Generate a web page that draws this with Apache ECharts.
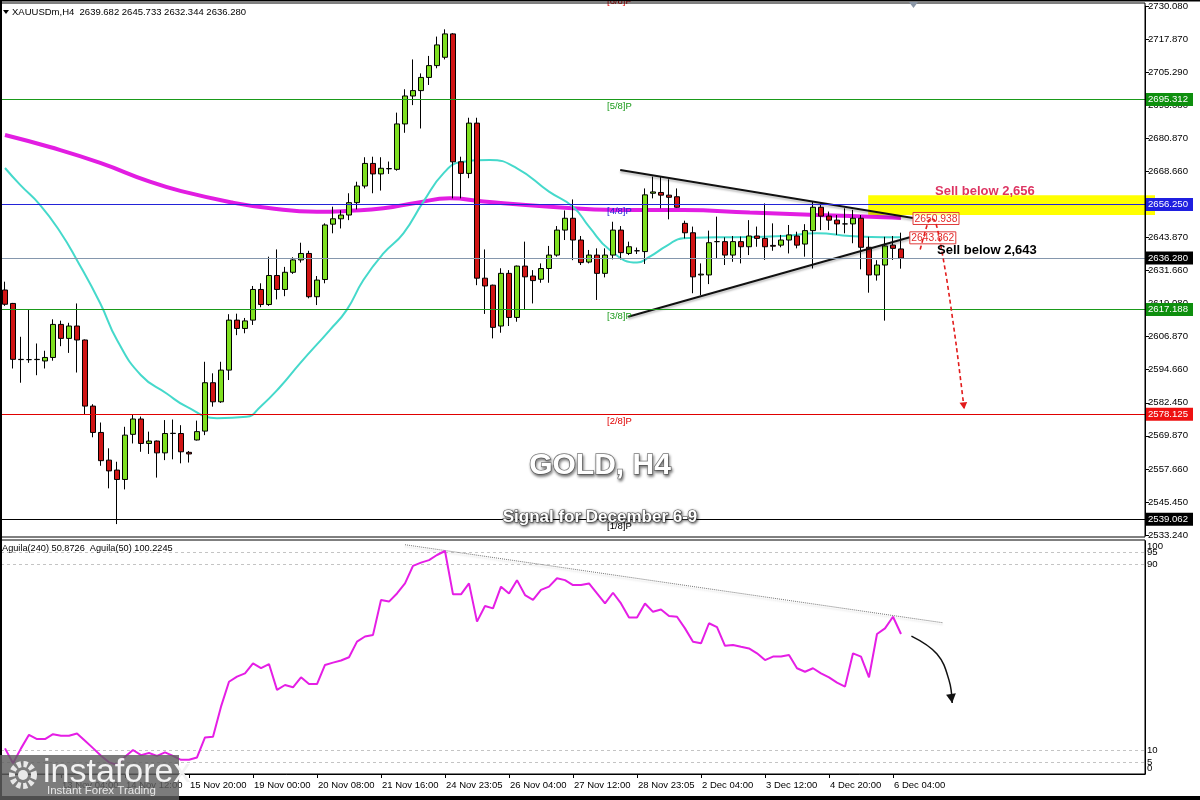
<!DOCTYPE html>
<html><head><meta charset="utf-8">
<script src="https://cdn.jsdelivr.net/npm/echarts@6/dist/echarts.min.js"></script>
<style>html,body{margin:0;padding:0;background:#fff;overflow:hidden}#c{width:1200px;height:800px}</style>
</head><body><div id="c"></div>
<script>
// ---------- DATA ----------
const H6 = ['00:00','04:00','08:00','12:00','16:00','20:00'];
const sessions = [
  ['12 Nov', H6], ['13 Nov', H6], ['14 Nov', H6], ['15 Nov', H6],
  ['17 Nov', ['23:05']],
  ['18 Nov', H6], ['19 Nov', H6], ['20 Nov', H6], ['21 Nov', H6], ['22 Nov', H6],
  ['24 Nov', ['23:05']],
  ['25 Nov', H6], ['26 Nov', H6], ['27 Nov', H6],
  ['28 Nov', ['00:00','04:00','08:00','12:00','16:00','23:05']],
  ['29 Nov', ['00:00','04:00','08:00','12:00','16:00']],
  ['1 Dec', ['23:05']],
  ['2 Dec', H6], ['3 Dec', H6], ['4 Dec', H6], ['5 Dec', H6],
  ['6 Dec', ['00:00','04:00','08:00']]
];
const futureSlots = 30;

// OHLC rows: [open, high, low, close]
const ohlc = [
 [2624.4,2627.5,2618.5,2619.1],[2619.4,2619.6,2595.2,2598.6],[2598.6,2607.0,2589.9,2598.5],[2598.5,2617.2,2597.3,2598.5],
 [2598.5,2604.5,2592.7,2598.6],[2598.0,2601.8,2595.2,2599.3],[2599.3,2613.5,2598.1,2611.6],[2611.6,2613.0,2603.5,2606.4],
 [2606.4,2612.2,2601.0,2611.0],[2611.0,2619.4,2593.7,2605.8],[2605.8,2606.0,2577.9,2581.2],[2581.2,2581.9,2569.6,2571.4],
 [2571.4,2575.1,2559.0,2560.9],[2561.1,2565.5,2550.6,2557.1],[2557.4,2560.5,2537.3,2553.9],[2553.9,2573.5,2550.2,2570.4],
 [2570.7,2577.9,2567.3,2576.4],[2576.4,2577.3,2564.2,2567.3],[2567.3,2571.7,2563.4,2568.2],[2568.2,2568.4,2554.6,2563.8],
 [2563.8,2576.0,2561.1,2571.0],[2571.0,2576.2,2561.4,2571.1],[2571.0,2574.1,2559.9,2564.2],[2564.0,2564.5,2560.2,2563.4],
 [2568.6,2575.8,2568.4,2571.7],[2571.9,2597.7,2570.4,2589.9],[2589.9,2593.4,2581.0,2582.8],[2582.8,2597.7,2582.4,2594.6],
 [2594.6,2615.4,2590.9,2613.2],[2613.2,2615.6,2607.6,2610.1],[2610.1,2614.0,2608.3,2612.9],[2613.2,2625.9,2611.4,2624.6],
 [2624.6,2626.9,2618.0,2619.0],[2619.0,2636.8,2618.5,2629.8],[2629.8,2639.5,2620.9,2624.6],[2624.6,2633.0,2622.1,2631.0],
 [2631.0,2636.6,2630.4,2635.6],[2635.6,2642.0,2634.6,2638.0],[2638.0,2639.0,2621.3,2621.9],[2621.9,2629.6,2618.8,2628.1],
 [2628.3,2649.2,2626.9,2648.6],[2648.9,2655.4,2645.5,2650.9],[2650.9,2654.1,2647.3,2652.3],[2652.3,2660.4,2650.4,2656.9],
 [2656.9,2664.7,2654.4,2663.1],[2663.1,2673.8,2662.2,2671.5],[2671.5,2674.0,2660.4,2667.6],[2667.6,2673.8,2661.4,2669.7],
 [2669.5,2672.2,2667.6,2669.6],[2669.3,2690.4,2668.8,2686.2],[2686.2,2699.1,2682.9,2696.6],[2696.6,2710.2,2693.2,2698.6],
 [2698.6,2705.0,2684.5,2703.5],[2703.5,2711.5,2700.7,2707.9],[2707.9,2718.7,2706.9,2715.6],[2711.0,2721.4,2710.2,2719.7],
 [2719.7,2720.0,2658.5,2672.1],[2672.1,2674.0,2658.5,2667.8],[2667.8,2688.5,2666.0,2686.5],[2686.5,2688.5,2626.2,2628.8],
 [2628.8,2639.5,2615.5,2625.9],[2626.2,2626.4,2606.4,2610.5],[2611.0,2632.5,2608.5,2630.6],[2630.6,2631.8,2611.0,2614.2],
 [2614.2,2633.5,2612.6,2633.3],[2633.3,2642.4,2617.0,2629.3],[2629.6,2631.8,2619.4,2627.9],[2628.4,2634.3,2627.1,2632.4],
 [2632.4,2640.8,2627.1,2637.4],[2637.4,2648.2,2636.8,2646.7],[2646.7,2654.0,2643.0,2651.1],[2651.1,2658.1,2635.5,2643.0],
 [2643.0,2644.5,2633.7,2634.6],[2634.8,2639.3,2634.3,2637.4],[2637.4,2639.9,2620.7,2630.6],[2630.6,2639.9,2629.1,2637.4],
 [2637.4,2649.8,2635.8,2646.7],[2646.7,2648.2,2635.8,2638.3],[2638.0,2642.4,2637.4,2640.5],[2639.0,2640.2,2637.8,2639.0],
 [2638.7,2662.2,2634.1,2659.8],[2660.4,2666.6,2658.5,2660.9],[2660.7,2666.6,2654.8,2659.7],[2659.7,2665.6,2650.7,2658.9],
 [2659.1,2662.2,2655.0,2655.2],[2649.2,2650.2,2643.6,2645.7],[2645.7,2648.0,2623.2,2629.3],[2630.0,2634.3,2622.5,2630.3],
 [2630.0,2646.5,2626.6,2642.0],[2642.4,2651.7,2636.2,2642.4],[2642.4,2644.0,2633.7,2637.4],[2637.4,2644.5,2634.9,2642.4],
 [2642.4,2644.3,2634.3,2640.5],[2640.5,2650.4,2637.4,2644.5],[2644.5,2648.0,2640.5,2643.6],[2643.6,2656.6,2635.6,2640.5],
 [2641.0,2649.2,2639.0,2640.7],[2641.1,2644.9,2640.3,2643.0],[2643.0,2648.6,2638.0,2644.9],[2644.5,2646.1,2639.9,2641.1],
 [2641.5,2648.9,2636.8,2646.5],[2646.5,2657.3,2632.4,2655.2],[2655.2,2656.6,2646.7,2651.9],[2651.9,2653.6,2646.7,2650.4],
 [2650.4,2652.3,2644.9,2649.0],[2649.0,2654.8,2645.5,2649.0],[2649.0,2654.2,2641.8,2651.1],[2651.1,2652.3,2632.1,2640.3],
 [2640.3,2644.2,2623.4,2630.0],[2630.0,2635.5,2627.9,2633.7],[2633.7,2644.2,2613.0,2640.8],[2641.1,2644.5,2635.6,2639.9],
 [2639.682,2645.733,2632.344,2636.280]
];

// moving averages: [candle index, price]
const maFast = [[0,2669.8],[1.9,2663.5],[4.4,2656],[6.9,2646],[9,2635.5],[11.9,2619.5],[14,2605.8],[17,2592.7],
 [20.2,2585.9],[22.7,2581],[26.5,2576.7],[30.2,2577.2],[31.9,2580.9],[34.4,2588.4],[36.9,2597.2],[40.6,2609.5],
 [42.7,2616.9],[44.8,2628.1],[47.3,2638],[49.8,2645.5],[52.3,2657.3],[54.8,2667.8],[57,2672],[60.6,2672.8],
 [64,2669.7],[68,2661],[71,2655.4],[73,2648],[75.6,2639.3],[79,2634.6],[80.6,2636.8],[82.7,2640.8],[84.8,2643.7],
 [89,2644],[93,2644.1],[97.3,2644.5],[101.5,2645.5],[105.6,2644.5],[109.8,2644],[112,2644]];
const maSlow = [[0,2682.1],[5.6,2677.6],[11.9,2671.7],[18.1,2664.7],[22.3,2661],[28.5,2656.9],[32.7,2655],[39,2653.5],
 [43.1,2653.9],[47.3,2654.8],[51.5,2656.9],[55.6,2658.5],[59.8,2657.3],[68.1,2655.4],[76.5,2654.2],[84.8,2654.2],
 [93.1,2653.2],[101.5,2652.3],[109.8,2651.5],[112,2651.2]];

// Aguila(50) oscillator, one value per candle
const aguila = [11.0,4.6,11.0,16.8,15.0,15.0,17.1,16.4,16.4,17.4,14.3,11.1,7.8,5.0,4.0,7.4,10.3,8.1,9.0,7.8,
 9.3,7.8,6.1,6.1,7.1,15.7,16.0,28.9,39.6,41.8,43.2,47.5,45.4,47.2,36.1,38.2,37.2,41.5,38.6,38.6,
 46.8,47.8,48.7,50.1,56.8,59.0,59.7,74.7,74.0,77.5,81.8,89.3,90.7,91.8,94.0,95.7,77.1,77.1,81.8,65.4,
 72.1,71.1,80.4,77.5,83.2,76.8,74.7,79.0,80.4,84.0,83.2,81.1,81.1,81.8,77.5,73.2,77.8,73.2,67.2,67.2,
 73.2,69.6,70.6,67.8,67.5,62.5,56.8,56.1,64.7,63.0,55.0,55.4,54.6,53.9,51.8,48.9,50.4,50.4,51.1,45.4,
 43.9,45.4,43.2,41.5,39.2,37.5,51.8,50.4,41.5,60.1,62.5,67.5,60.1];

// price axis tick labels (bottom to top) and range
const priceMin = 2533.24, priceMax = 2730.08, priceStep = 12.3025;
const priceTickLabels = ['2533.240','2545.450','2557.660','2569.870','2582.450','2594.660','2606.870','2619.080',
 '2631.660','2643.870','2656.080','2668.660','2680.870','2693.080','2705.290','2717.870','2730.080'];
const oscTicks = [100,95,90,10,5,0];
const oscLevels = [95,90,10,5];

// Murrey levels and price markers
const levels = [
  {price:2734.375, name:'[6/8]P', color:'#e00000', line:false},
  {price:2695.312, name:'[5/8]P', color:'#1a9a1a', box:'#0e8f0e'},
  {price:2656.250, name:'[4/8]P', color:'#2323d8', box:'#1f1fe0'},
  {price:2617.188, name:'[3/8]P', color:'#1a9a1a', box:'#0e8f0e'},
  {price:2578.125, name:'[2/8]P', color:'#e00000', box:'#ee1111'},
  {price:2539.062, name:'[1/8]P', color:'#000000', box:'#000000'}
];
const lastPrice = 2636.280;

// annotations in data coordinates [candle index, price]
const upperTrend = [[76.9,2669.05],[113.5,2651.2]];
const lowerTrend = [[77.9,2614.45],[113.1,2644.0]];
const sellZone = {fromIndex:107.9, top:2659.7, bottom:2652.3};
const sellTexts = [{index:116.25, price:2661.0, text:'Sell below 2,656', color:'#dd3563'},
                   {index:116.5, price:2639.3, text:'Sell below 2,643', color:'#000000'}];
const redPath = [[114.4,2639.5],[115.6,2651.0],[116.3,2650.0],[117.6,2630.5],[118.9,2604],[119.9,2580]];
const oscTrend = [[50,98.4],[117.25,64.9]];
const oscArrow = [[113.3,59.2],[116.5,51.5],[118.0,40.3],[118.4,30.5]];

// ---------- BUILD ----------
const categories = [];
sessions.forEach(([d, hs]) => hs.forEach(h => categories.push(d + ' ' + h)));
const nCandles = categories.length;
for (let k = 0; k < futureSlots; k++) categories.push('');
const N = categories.length;
const candleData = ohlc.map(r => [r[0], r[3], r[2], r[1]]);
const labelIdx = (i) => i % 8 === 7 && i < nCandles;
const F = '"Liberation Sans", Arial, sans-serif';

const chart = echarts.init(document.getElementById('c'), null, {renderer:'canvas'});
const option = {
  animation:false,
  backgroundColor:'#ffffff',
  grid:[
    {left:1, right:55, top:6, height:529},
    {left:1, right:55, top:541, height:233}
  ],
  xAxis:[
    {type:'category', gridIndex:0, data:categories, boundaryGap:true, axisLine:{show:false, onZero:false}, axisTick:{show:false}, axisLabel:{show:false}, splitLine:{show:false}},
    {type:'category', gridIndex:1, data:categories, boundaryGap:true,
     axisLine:{show:true, onZero:false, lineStyle:{color:'#000', width:1}},
     axisTick:{show:true, alignWithLabel:true, length:4, interval:(i)=>labelIdx(i), lineStyle:{color:'#000'}},
     axisLabel:{show:true, interval:(i)=>labelIdx(i), align:'left', margin:6, color:'#000', fontSize:9.5, fontFamily:F, padding:[0,0,0,1]},
     splitLine:{show:false}},
    {type:'value', gridIndex:0, min:-0.5, max:N-0.5, show:false, axisLine:{onZero:false}},
    {type:'value', gridIndex:1, min:-0.5, max:N-0.5, show:false, axisLine:{onZero:false}}
  ],
  yAxis:[
    {type:'value', gridIndex:0, position:'right', min:priceMin, max:priceMax, interval:priceStep,
     axisLine:{show:true, onZero:false, lineStyle:{color:'#000'}},
     axisTick:{show:true, length:4, lineStyle:{color:'#000'}},
     axisLabel:{color:'#000', fontSize:9.6, fontFamily:F, margin:3, showMinLabel:true, showMaxLabel:true,
       formatter:(v)=>priceTickLabels[Math.round((v-priceMin)/priceStep)] || ''},
     splitLine:{show:false}},
    {type:'value', gridIndex:1, position:'right', min:0, max:100, interval:5,
     axisLine:{show:true, onZero:false, lineStyle:{color:'#000'}},
     axisTick:{show:false}, axisLabel:{show:false}, splitLine:{show:false}}
  ],
  series:[
    {type:'line', name:'MA slow', xAxisIndex:2, yAxisIndex:0, data:maSlow, smooth:0.5, symbol:'none', z:1,
     lineStyle:{color:'#e21de2', width:4}},
    {type:'line', name:'MA fast', xAxisIndex:2, yAxisIndex:0, data:maFast, smooth:0.5, symbol:'none', z:1,
     lineStyle:{color:'#45d9cb', width:2}},
    {type:'candlestick', name:'XAUUSDm', xAxisIndex:0, yAxisIndex:0, data:candleData, barWidth:5, z:3,
     itemStyle:{color:'#7fe021', color0:'#d01414', borderColor:'#000', borderColor0:'#000', borderColorDoji:'#000', borderWidth:1}},
    {type:'line', name:'levels', xAxisIndex:2, yAxisIndex:0, data:[], symbol:'none', z:2,
     markLine:{silent:true, symbol:'none', label:{show:false},
       data: levels.filter(l=>l.line!==false).map(l=>({yAxis:l.price, lineStyle:{color:l.color, width:1, type:'solid'}}))
         .concat([{yAxis:lastPrice, lineStyle:{color:'#8597ad', width:1, type:'solid'}}])}},
    {type:'line', name:'upper', xAxisIndex:2, yAxisIndex:0, data:upperTrend, symbol:'none', z:4,
     lineStyle:{color:'#111', width:2, shadowColor:'rgba(0,0,0,0.25)', shadowBlur:2, shadowOffsetY:2}},
    {type:'line', name:'lower', xAxisIndex:2, yAxisIndex:0, data:lowerTrend, symbol:'none', z:4,
     lineStyle:{color:'#111', width:2, shadowColor:'rgba(0,0,0,0.25)', shadowBlur:2, shadowOffsetY:2}},
    {type:'line', name:'Aguila(50)', xAxisIndex:1, yAxisIndex:1, data:aguila, symbol:'none', z:3,
     lineStyle:{color:'#e51ee5', width:2},
     markLine:{silent:true, symbol:'none', label:{show:false}, z:1,
       data: oscLevels.map(v=>({yAxis:v, lineStyle:{color:'#c4c4c4', width:1, type:[3,3]}}))}},
    {type:'line', name:'osc trend', xAxisIndex:3, yAxisIndex:1, data:oscTrend, symbol:'none', z:2,
     lineStyle:{color:'#777', width:1, type:[1,1], shadowColor:'rgba(0,0,0,0.2)', shadowBlur:2, shadowOffsetY:2}}
  ]
};
chart.setOption(option);

// ---------- ANNOTATIONS (positioned through the axes) ----------
const X = (i) => chart.convertToPixel({xAxisIndex:2}, i);
const Y = (p) => chart.convertToPixel({yAxisIndex:0}, p);
const X2 = (i) => chart.convertToPixel({xAxisIndex:3}, i);
const Y2 = (v) => chart.convertToPixel({yAxisIndex:1}, v);
const axisX = X(N-0.5);
const g = [];
const txt = (x, y, text, font, fill, align, valign, extra, z) => Object.assign({type:'text', z:z||20, silent:true,
  style:Object.assign({x, y, text, font, fill, textAlign:align||'left', align:align||'left', textVerticalAlign:valign||'middle', verticalAlign:valign||'middle'}, extra||{})});

// oscillator axis labels (top label drawn below its tick, bottom one above, as in the terminal)
oscTicks.forEach(v => {
  const y = Y2(v) + (v === 100 ? 5.5 : v === 0 ? -5.5 : 0);
  g.push(txt(axisX + 2, y, String(v), '9.6px '+F, '#000', 'left', 'middle', {}, 20));
});

// sell zone
g.push({type:'rect', z:0, silent:true, shape:{x:X(sellZone.fromIndex), y:Y(sellZone.top), width:axisX+10-X(sellZone.fromIndex), height:Y(sellZone.bottom)-Y(sellZone.top)}, style:{fill:'#ffff00'}});

// level labels
const labelX = X(75.25);
levels.forEach(l => g.push(txt(labelX, Y(l.price)+2, l.name, '9.5px '+F, l.color, 'left', 'top')));

// right-axis price boxes
const box = (price, bg) => {
  const y = Y(price);
  g.push({type:'rect', z:25, silent:true, shape:{x:axisX+1, y:y-6.5, width:47, height:13}, style:{fill:bg}});
  g.push(txt(axisX+3, y, price.toFixed(3), '9.6px '+F, '#fff', 'left', 'middle', {}, 26));
};
levels.filter(l=>l.box).forEach(l => box(l.price, l.box));
box(lastPrice, '#000');

// trendline end values
const endBox = (pt, text) => {
  const x = X(pt[0]), y = Y(pt[1]) + 0.5;
  g.push({type:'rect', z:21, silent:true, shape:{x:x, y:y-6, width:46, height:12}, style:{fill:'rgba(255,255,255,0.5)', stroke:'#e03a3a', lineWidth:1}});
  g.push(txt(x+23, y+0.5, text, '10.3px '+F, '#e32b2b', 'center', 'middle', {}, 22));
};
endBox(upperTrend[1], '2650.938');
endBox(lowerTrend[1], '2643.862');

sellTexts.forEach(s => g.push(txt(X(s.index), Y(s.price), s.text, 'bold 13px '+F, s.color, 'left', 'middle', {}, 23)));

// arrows
const arrowHead = (pts, color, size, zz) => {
  const a = pts[pts.length-2], b = pts[pts.length-1];
  const ang = Math.atan2(b[1]-a[1], b[0]-a[0]);
  const l = size, w = size*0.55;
  const p1 = [b[0]-l*Math.cos(ang)+w*Math.sin(ang), b[1]-l*Math.sin(ang)-w*Math.cos(ang)];
  const p2 = [b[0]-l*Math.cos(ang)-w*Math.sin(ang), b[1]-l*Math.sin(ang)+w*Math.cos(ang)];
  g.push({type:'polygon', z:zz, silent:true, shape:{points:[b,p1,p2]}, style:{fill:color}});
};
const redPts = redPath.map(p => [X(p[0]), Y(p[1])]);
g.push({type:'polyline', z:22, silent:true, shape:{points:redPts, smooth:0.25}, style:{stroke:'#e21b1b', lineWidth:1.6, lineDash:[4,3], fill:null}});
arrowHead(redPts, '#e21b1b', 7, 22);

const oscPts = oscArrow.map(p => [X2(p[0]), Y2(p[1])]);
g.push({type:'polyline', z:22, silent:true, shape:{points:oscPts, smooth:0.4}, style:{stroke:'#111', lineWidth:1.5, fill:null}});
arrowHead(oscPts, '#111', 9, 22);

// titles
g.push(txt(600, 466, 'GOLD, H4', 'bold 30px '+F, '#ffffff', 'center', 'middle',
  {stroke:'#7d7d7d', lineWidth:1.5, shadowColor:'rgba(0,0,0,0.45)', shadowBlur:3, shadowOffsetX:1, shadowOffsetY:2,
   textShadowColor:'rgba(0,0,0,0.45)', textShadowBlur:3, textShadowOffsetX:1, textShadowOffsetY:2}));
g.push(txt(600, 517, 'Signal for December 6-9', 'bold 17px '+F, '#ffffff', 'center', 'middle',
  {stroke:'#5a5a5a', lineWidth:1.2, shadowColor:'rgba(0,0,0,0.6)', shadowBlur:3, shadowOffsetX:1, shadowOffsetY:1,
   textShadowColor:'rgba(0,0,0,0.6)', textShadowBlur:3, textShadowOffsetX:1, textShadowOffsetY:1}));

// headers
g.push({type:'polygon', z:20, silent:true, shape:{points:[[3,10],[9,10],[6,14]]}, style:{fill:'#000'}});
g.push(txt(12, 12, 'XAUUSDm,H4  2639.682 2645.733 2632.344 2636.280', '9.5px '+F, '#000', 'left', 'middle'));
g.push(txt(2, 548, 'Aguila(240) 50.8726  Aguila(50) 100.2245', '9.2px '+F, '#000', 'left', 'middle'));

// frames
g.push({type:'rect', z:30, silent:true, shape:{x:1, y:3, width:axisX-1, height:534}, style:{fill:null, stroke:'#000', lineWidth:1}});
g.push({type:'rect', z:30, silent:true, shape:{x:1, y:540, width:axisX-1, height:234}, style:{fill:null, stroke:'#000', lineWidth:1}});
g.push({type:'rect', z:31, silent:true, shape:{x:0, y:0, width:1200, height:1.5}, style:{fill:'#000'}});
g.push({type:'rect', z:31, silent:true, shape:{x:0, y:0, width:2, height:800}, style:{fill:'#000'}});
g.push({type:'rect', z:31, silent:true, shape:{x:0, y:796, width:1200, height:4}, style:{fill:'#000'}});
g.push({type:'polygon', z:31, silent:true, shape:{points:[[909,2],[918,2],[913.5,8]]}, style:{fill:'#8a96a6'}});

// logo
g.push({type:'rect', z:40, silent:true, shape:{x:0, y:755, width:179, height:45}, style:{fill:'rgba(95,95,95,0.82)'}});
g.push({type:'circle', z:41, silent:true, shape:{cx:23, cy:775, r:11}, style:{fill:null, stroke:'#e8e8e8', lineWidth:6, lineDash:[4,2.5]}});
g.push({type:'circle', z:41, silent:true, shape:{cx:23, cy:775, r:5}, style:{fill:'#e8e8e8'}});
g.push(txt(43, 773, 'instaforex', '34px '+F, '#f2f2f2', 'left', 'middle', {}, 42));
g.push(txt(47, 791, 'Instant Forex Trading', '11.5px '+F, '#e6e6e6', 'left', 'middle', {}, 43));

chart.setOption({graphic:{elements:g}});
</script>
</body></html>
